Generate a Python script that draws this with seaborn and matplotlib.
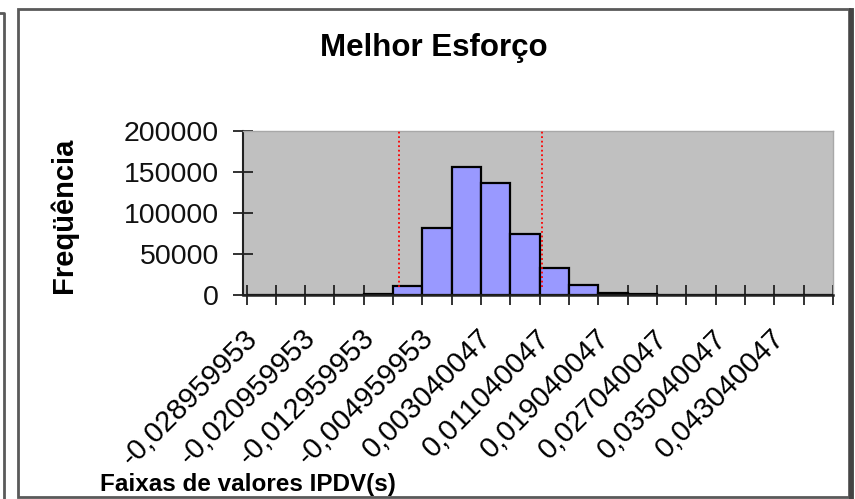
import numpy as np
import pandas as pd
import matplotlib
matplotlib.use("Agg")
import matplotlib.pyplot as plt
import seaborn as sns
from matplotlib.patches import Rectangle
from matplotlib.lines import Line2D

# ---------------- data ----------------
bin_labels = [
    "-0,028959953", "-0,024959953", "-0,020959953", "-0,016959953",
    "-0,012959953", "-0,008959953", "-0,004959953", "-0,000959953",
    "0,003040047", "0,007040047", "0,011040047", "0,015040047",
    "0,019040047", "0,023040047", "0,027040047", "0,031040047",
    "0,035040047", "0,039040047", "0,043040047", "0,047040047",
]
frequencies = [0, 0, 0, 0, 800, 11000, 82000, 156000, 137000, 74000,
               33500, 12300, 3000, 700, 0, 0, 0, 0, 0, 0]
first_bin_value = -0.028959953
bin_width = 0.004
red_line_values = [-0.0102, 0.0094]
red_line_bottom = 10000
y_ticks = [0, 50000, 100000, 150000, 200000]

title = "Melhor Esforço"
y_label = "Freqüência"
x_label = "Faixas de valores IPDV(s)"

# ---------------- figure ----------------
plt.rcParams["font.family"] = ["Liberation Sans", "DejaVu Sans"]
W, H = 855, 499
fig = plt.figure(figsize=(W / 100, H / 100), dpi=100)
fig.patch.set_facecolor("white")

ax = fig.add_axes([243 / W, 1 - 295 / H, 590 / W, 164 / H])
ax.set_facecolor("#C0C0C0")

df = pd.DataFrame({"faixa": bin_labels, "freq": frequencies})
sns.barplot(data=df, x="faixa", y="freq", order=bin_labels, color="#9999FF",
            saturation=1, width=1.0, edgecolor="black", linewidth=1.6, ax=ax,
            zorder=3)

# red dotted reference lines (positions from values through the category scale)
red_pos = [(v - first_bin_value) / bin_width for v in red_line_values]
ax.vlines(red_pos, red_line_bottom, y_ticks[-1], colors="red",
          linestyles=(0, (1, 1.5)), linewidth=1.3, zorder=5)

n = len(bin_labels)
ax.set_xlim(-0.5, n - 0.5)
ax.set_ylim(0, y_ticks[-1])

# major x ticks at category boundaries (no labels)
ax.set_xticks(np.arange(n + 1) - 0.5)
ax.set_xticklabels([""] * (n + 1))
ax.tick_params(axis="x", which="major", direction="inout", length=14.4,
               width=1.3, color="#222222")
# labels for every other category
lab_idx = list(range(0, n, 2))
ax.set_xticks([i - 0.62 for i in lab_idx], minor=True)
ax.set_xticklabels([bin_labels[i] for i in lab_idx], minor=True,
                   rotation=45, ha="right", va="top", rotation_mode="anchor",
                   fontsize=21)
ax.tick_params(axis="x", which="minor", length=0, pad=21)

ax.set_yticks(y_ticks)
ax.set_yticklabels([str(v) for v in y_ticks], fontsize=20.5, color="#111111")
ax.tick_params(axis="y", which="major", direction="inout", length=14.4,
               width=1.3, color="#222222", pad=10)

ax.set_xlabel("")
ax.set_ylabel("")

for s in ["top", "right"]:
    ax.spines[s].set_color("#A8A8A8")
    ax.spines[s].set_linewidth(1.0)
ax.spines["left"].set_color("#222222")
ax.spines["left"].set_linewidth(1.5)
ax.spines["bottom"].set_color("#222222")
ax.spines["bottom"].set_linewidth(1.8)
ax.spines["bottom"].set_zorder(6)

# texts
fig.text(434 / W, 1 - 48 / H, title, ha="center", va="center",
         fontsize=22.5, fontweight="bold")
fig.text(64 / W, 1 - 215 / H, y_label, ha="center", va="center",
         rotation=90, fontsize=21, fontweight="bold")
fig.text(100 / W, 1 - 484 / H, x_label, ha="left", va="center",
         fontsize=17.5, fontweight="bold")

# chart frame
fig.add_artist(Rectangle((18 / W, 1 - 497 / H), (849 - 18) / W, (497 - 9) / H,
                         transform=fig.transFigure, fill=False,
                         edgecolor="#5A5A5A", linewidth=2.0))
fig.add_artist(Line2D([850.5 / W, 850.5 / W], [1 - 10 / H, 0],
                      transform=fig.transFigure, color="#444444",
                      linewidth=3.5))
# fragment of neighbouring chart frame
fig.add_artist(Line2D([0, 4 / W, 4 / W], [1 - 13 / H, 1 - 13 / H, 0],
                      transform=fig.transFigure, color="#5A5A5A",
                      linewidth=2.0))

fig.savefig("out.png", dpi=100)
